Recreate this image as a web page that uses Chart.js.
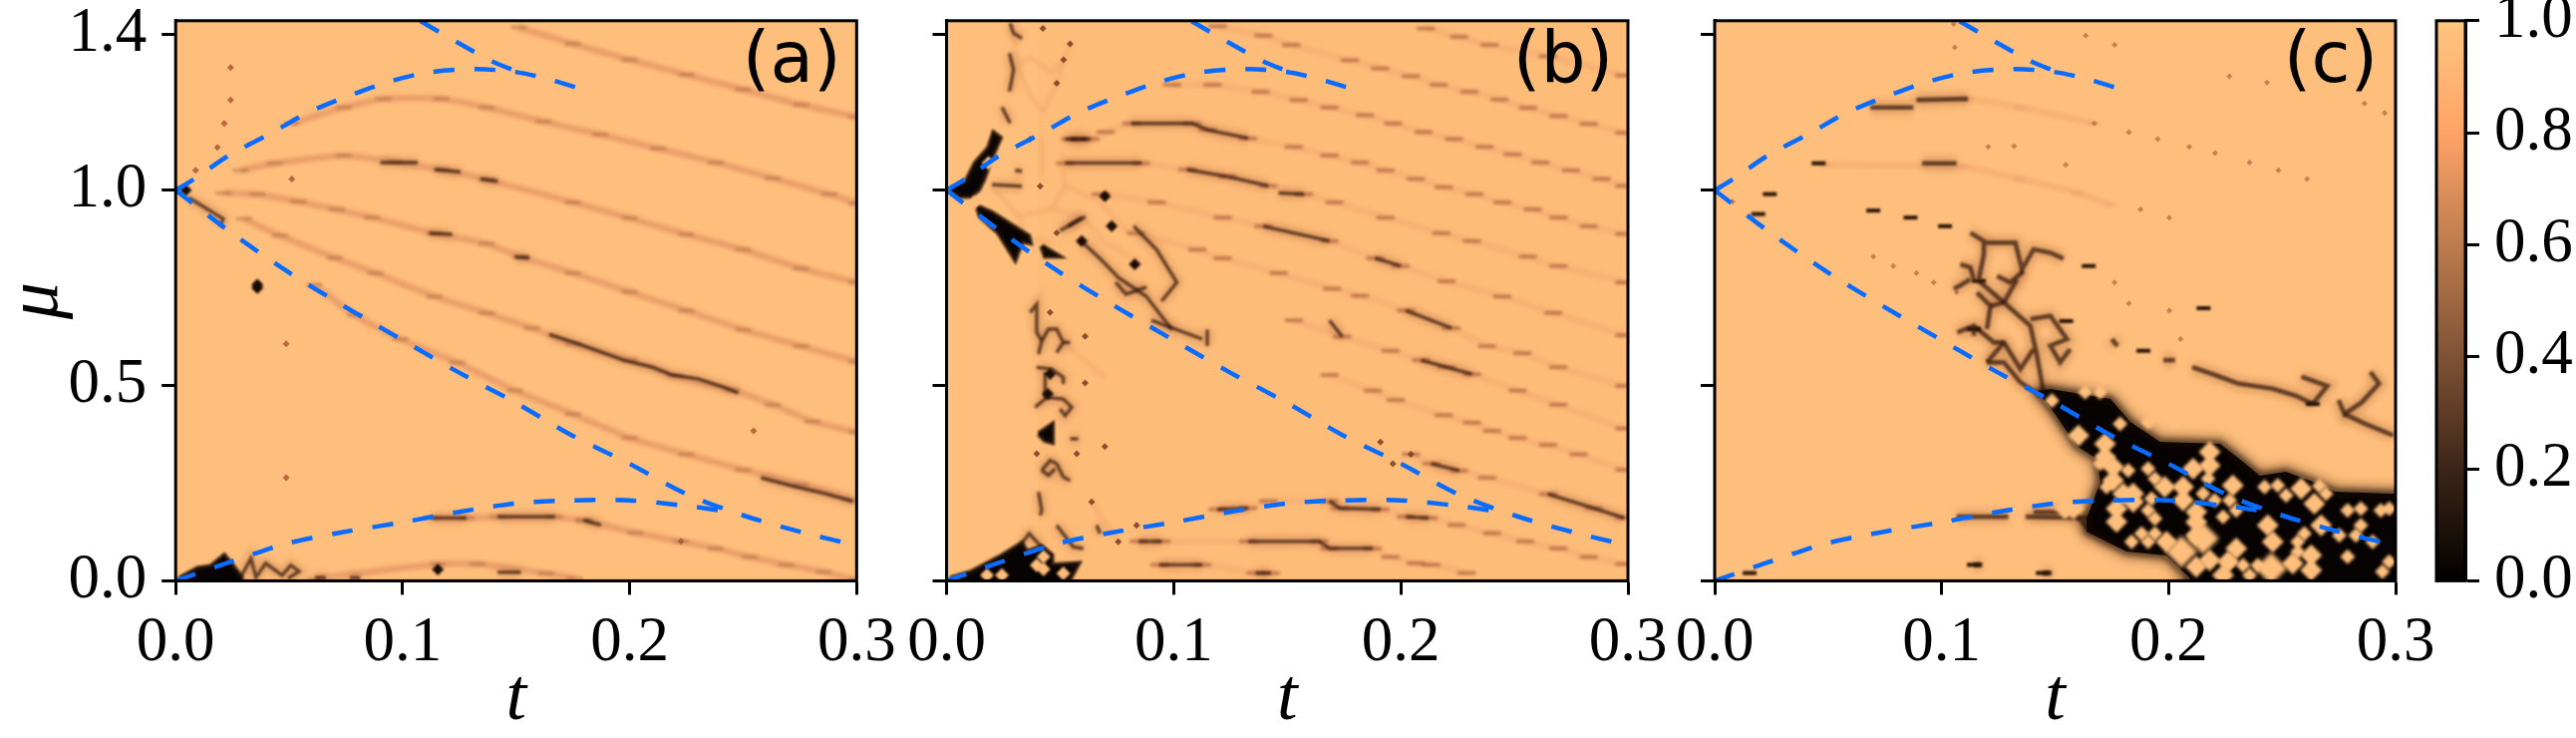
<!DOCTYPE html>
<html>
<head>
<meta charset="utf-8">
<script src="https://cdn.jsdelivr.net/npm/chart.js@4"></script>
<style>
html, body { margin: 0; background: #fff; }
canvas { position: absolute; left: 0; top: 0; }
</style>
</head>
<body>
<canvas id="panelA" width="2584" height="740"></canvas>
<canvas id="panelB" width="2584" height="740"></canvas>
<canvas id="panelC" width="2584" height="740"></canvas>
<canvas id="colorBar" width="2584" height="740"></canvas>
<script>
// axis ticks
var tTicks = [0, 0.1, 0.2, 0.3];
var muTicks = [0, 0.5, 1.0, 1.4];
var barTicks = [0, 0.2, 0.4, 0.6, 0.8, 1.0];
var barColors = ['#000000', '#3d2517', '#7f5236', '#bd7c4e', '#ffa367', '#ffc57f'];

// blue dashed boundaries, same on all panels
var edgeUpper = [[0,1],[.0083,1.029],[.0234,1.089],[.0411,1.143],[.0587,1.2],[.0764,1.242],[.094,1.278],[.1117,1.302],[.1318,1.31],[.1495,1.303],[.1646,1.284],[.1797,1.257]];
var edgeTop = [[.1079,1.433],[.1243,1.378],[.1394,1.33],[.1495,1.306]];
var edgeFall = [[0,1],[.0234,.896],[.0487,.794],[.0739,.704],[.0991,.619],[.1243,.535],[.1495,.457],[.1747,.372],[.1999,.3],[.2251,.222],[.2503,.167],[.2755,.125],[.2982,.093]];
var edgeLower = [[0,0],[.0234,.047],[.0487,.095],[.0739,.125],[.0991,.149],[.1243,.176],[.1495,.198],[.1747,.206],[.1999,.206],[.2251,.192],[.2402,.18]];

// panel (a)
var aRidges = [
  [[.151,1.417],[.175,1.375],[.2,1.334],[.225,1.296],[.25,1.258],[.2755,1.219],[.3,1.188]],
  [[.051,1.171],[.074,1.212],[.0915,1.234],[.117,1.234],[.137,1.212],[.162,1.176],[.187,1.143],[.2125,1.107],[.238,1.071],[.263,1.031],[.288,.99],[.3,.966]],
  [[.0285,1.051],[.0436,1.069],[.074,1.089],[.0965,1.073],[.117,1.053],[.137,1.027],[.175,.969],[.2,.929],[.225,.887],[.25,.848],[.2755,.8],[.3,.764]],
  [[.021,.993],[.036,.99],[.054,.971],[.071,.951],[.0865,.93],[.114,.89],[.137,.863],[.152,.83],[.175,.788],[.2,.74],[.225,.692],[.25,.643],[.2755,.601],[.3,.561]],
  [[.03,.927],[.046,.884],[.07,.827],[.088,.788],[.114,.728],[.137,.686],[.157,.647],[.175,.607],[.2,.565],[.22,.525],[.245,.489],[.263,.451],[.2805,.408],[.3,.381]],
  [[.061,.758],[.079,.68],[.099,.619],[.124,.559],[.1495,.487],[.175,.427],[.2,.366],[.225,.324],[.25,.284],[.2755,.246],[.3,.204]],
  [[.18,.155],[.2025,.123],[.2225,.101],[.238,.083],[.253,.061],[.269,.041],[.2855,.023],[.3,.002]],
  [[.0612,.005],[.1155,.043],[.1331,.043],[.1633,.019],[.1759,.007]],
  [[.1129,.161],[.1281,.161],[.1419,.164],[.1671,.164],[.1797,.155]]
];
var aDark = [
  [[.0902,1.071],[.1066,1.071]], [[.1142,1.053],[.1255,1.047]], [[.1344,1.029],[.1419,1.023]],
  [[.1117,.89],[.1218,.887]], [[.1495,.829],[.1558,.827]],
  [[.1646,.631],[.1772,.607],[.1974,.565],[.21,.547],[.2188,.527],[.2301,.517],[.2428,.493],[.2478,.481]],
  [[.2579,.264],[.2717,.243],[.2856,.224],[.2982,.204]],
  [[.1129,.161],[.1281,.161]], [[.1419,.164],[.1671,.164]], [[.1797,.155],[.1873,.143]],
  [[.1419,.022],[.152,.022]],
  [[.0058,.981],[.0209,.927],[.0197,.908]],
  [[.0289,.012],[.0332,.057],[.0354,.009],[.0397,.045],[.0469,.014],[.0507,.04],[.0544,.024],[.0495,.006]],
  [[.0615,.008],[.0661,.008]], [[.0768,.008],[.0812,.008]]
];
var aBlack = [[.0017,.006],[.0097,.032],[.0156,.037],[.0214,.065],[.025,.039],[.0289,.009],[.0289,-.01],[.0017,-.01]];
var aSpots = [[.0045,1],[.036,.758],[.036,.75],[.1155,.029]];
var aSpecks = [[.0242,1.314],[.0242,1.231],[.0214,1.171],[.0184,1.11],[.0088,1.051],[.0487,.607],[.0487,.264],[.0512,1.029],[.2546,.384],[.2226,.101]];

// panel (b)
var bRidges = [
  [[.2111,1.414],[.2257,1.393],[.2391,1.372],[.2648,1.343],[.2984,1.294]],
  [[.1193,1.42],[.1395,1.396],[.1518,1.372],[.1775,1.333],[.191,1.312],[.2044,1.292],[.2167,1.27],[.2302,1.252],[.2435,1.232],[.256,1.211],[.2694,1.19],[.2828,1.17],[.2984,1.147]],
  [[.0992,1.27],[.1171,1.27],[.1383,1.252],[.1551,1.231],[.1686,1.212],[.1842,1.192],[.1966,1.171],[.21,1.149],[.2234,1.131],[.2369,1.111],[.2492,1.092],[.2615,1.071],[.2749,1.051],[.2883,1.029],[.2984,1.011]],
  [[.0544,1.131],[.0634,1.131],[.0701,1.149],[.0813,1.171],[.1081,1.171],[.1148,1.155],[.1328,1.133],[.1529,1.111],[.1686,1.089],[.182,1.071],[.1932,1.051],[.2066,1.029],[.2189,1.008],[.2324,.99],[.2447,.969],[.2581,.951],[.2694,.93],[.2828,.908],[.2984,.888]],
  [[.0522,1.069],[.0857,1.069],[.1059,1.053],[.1238,1.035],[.1417,1.011],[.1574,.99],[.1708,.969],[.1932,.93],[.2178,.89],[.2313,.87],[.2559,.83],[.2694,.806],[.2984,.764]],
  [[.0678,.99],[.0925,.969],[.1216,.93],[.1395,.908],[.1686,.87],[.1887,.826],[.1999,.806],[.2201,.767],[.2447,.728],[.2671,.686],[.2984,.629]],
  [[.0835,.89],[.1104,.848],[.1216,.826],[.1462,.788],[.1697,.748],[.182,.73],[.2022,.692],[.2223,.647],[.238,.601],[.2536,.583],[.2693,.547],[.2984,.499]],
  [[.1529,.667],[.1742,.625],[.1954,.589],[.2089,.565],[.2201,.547],[.2313,.529],[.2514,.487],[.2693,.451],[.2984,.39]],
  [[.1686,.527],[.1876,.487],[.1977,.463],[.2189,.424],[.2313,.405],[.2402,.384],[.2514,.366],[.2648,.348],[.2783,.324],[.2984,.284]],
  [[.2044,.324],[.2134,.3],[.2257,.282],[.238,.264],[.2648,.222],[.285,.186],[.2984,.161]],
  [[.1193,.183],[.1328,.186],[.1417,.204],[.1686,.204],[.1731,.186],[.191,.183],[.2022,.164],[.2123,.161],[.2245,.143],[.2402,.122],[.2548,.101],[.2693,.083],[.2828,.061],[.2984,.043]],
  [[.0846,.101],[.0947,.101],[.1328,.101],[.1641,.101],[.1686,.083],[.1876,.083],[.1954,.061],[.2066,.045],[.2134,.041],[.229,.02]],
  [[.0936,.041],[.1126,.041],[.1361,.02],[.1428,.02]]
];
var bFaint = [
  [[.02,1.0103],[.0317,.9337],[.0463,.9508],[.0522,1.0103],[.0507,1.0954]],
  [[.0419,1.138],[.0419,1.0358]], [[.0317,.9337],[.0346,.8826],[.0463,.8656]],
  [[.0522,1.0103],[.0661,.9763],[.08,.8912]], [[.0463,.9508],[.0595,.9338],[.0698,.8656],[.086,.8145]],
  [[.0295,1.4018],[.031,1.32],[.036,1.25],[.0424,1.2],[.0485,1.274],[.0544,1.3745],[.0515,1.3337],[.0463,1.3],[.037,1.34],[.031,1.32]],
  [[.0514,.6104],[.0697,.52]], [[.0639,.2019],[.0756,.1]]
];
var bDark = [
  [[.0522,1.0699],[.0859,1.0699]], [[.0544,1.131],[.0634,1.131]], [[.0813,1.171],[.1081,1.171],[.1148,1.155],[.1328,1.133]],
  [[.1059,1.053],[.1238,1.035]], [[.1238,1.035],[.1417,1.011]], [[.1462,.993],[.1574,.99]], [[.1395,.908],[.1686,.87]],
  [[.1686,.667],[.1742,.625]], [[.1887,.826],[.1999,.806]], [[.2089,.565],[.2313,.529]], [[.2134,.3],[.2257,.282]],
  [[.2648,.222],[.285,.186],[.2984,.161]], [[.1193,.183],[.1328,.186]], [[.1686,.204],[.1731,.186],[.191,.183]],
  [[.2022,.164],[.2123,.161]], [[.0846,.101],[.0947,.101]], [[.1328,.101],[.1641,.101],[.1686,.083],[.1876,.083]],
  [[.0936,.041],[.1126,.041]], [[.1361,.02],[.1428,.02]], [[.2022,.692],[.2223,.647]],
  [[.028,1.4273],[.0295,1.4018],[.0332,1.389]], [[.0277,1.3507],[.0295,1.3081],[.0277,1.2528]], [[.0244,1.2128],[.028,1.172]],
  [[.02,1.0145],[.0332,1.0103]], [[.0302,1.051],[.0332,1.0486]], [[.0522,1.131],[.0617,1.131]], [[.0536,.908],[.0595,.9295]],
  [[.0499,.8964],[.0611,.9325]], [[.0589,.872],[.0678,.824],[.0757,.776],[.088,.728],[.0992,.643]], [[.0745,.764],[.079,.734],[.088,.752]],
  [[.0824,.908],[.0925,.848],[.1014,.764],[.0947,.716]], [[.1148,.643],[.1148,.601]], [[.0902,.667],[.1126,.619]],
  [[.0368,.687],[.0397,.7082],[.0397,.636],[.0419,.6146],[.0405,.5806]],
  [[.0419,.6146],[.0449,.6444],[.0485,.6444],[.0514,.6104],[.0485,.5848]], [[.0514,.6104],[.0544,.6104]],
  [[.0397,.5466],[.0463,.5423],[.0514,.521],[.0514,.504]], [[.0434,.5338],[.0434,.4657],[.039,.4444]],
  [[.0434,.47],[.0514,.4657],[.0551,.4444],[.0522,.4231],[.05,.4402]], [[.0544,.3636],[.058,.3636]],
  [[.0419,.2827],[.0456,.3083],[.0485,.2998],[.0514,.2657],[.0544,.2572]], [[.0419,.2827],[.0449,.27],[.0478,.287]],
  [[.0405,.2274],[.0419,.1806],[.0412,.1678]], [[.0485,.1423],[.0558,.087],[.0602,.0828]], [[.0661,.1423],[.0676,.121]],
  [[.0331,.0955],[.0364,.121],[.0397,.1],[.0419,.087]]
];
var bBlack = [
  [[.0017,1.0018],[.0083,1.0188],[.0127,1.0699],[.0185,1.108],[.0207,1.1465],[.0236,1.1337],[.02,1.0869],[.0163,1.0273],[.0141,1.0018],[.0105,.9848],[.0061,.9848]],
  [[.0134,.9592],[.02,.9422],[.0361,.8826],[.0368,.8656],[.0332,.8699],[.0302,.823],[.0229,.8912],[.0149,.9337]],
  [[.0419,.8571],[.0492,.8316],[.0434,.8316]],
  [[.0017,.0062],[.0112,.0232],[.0236,.0615],[.0331,.0955],[.0353,.0742],[.0419,.087],[.0463,.0657],[.0463,.0402],[.058,.0445],[.0544,.0062],[.0485,-.01],[.0017,-.01]],
  [[.0405,.3763],[.0465,.4],[.0465,.355],[.0434,.36]]
];
var bHoles = [[.0185,1.0699],[.0123,.9685],[.0397,.0402],[.0427,.0615],[.0514,.0189],[.0178,.0147],[.0244,.0147],[.0427,.03]];
var bSpots = [[.0456,.5295],[.0446,.4785],[.0697,.9848],[.0595,.8699],[.0829,.8103],[.0727,.908]];
var bSpecks = [[.0368,1.131],[.0485,1.274],[.0544,1.3745],[.0515,1.3337],[.0424,1.4145],[.0412,1.0103],[.0485,.8912],[.0397,.3253],[.0573,.3253],[.0697,.344],[.061,.6257],[.061,.5066],[.0456,.687],[.0639,.2019],[.0837,.1423],[.0756,.1],[.2044,.324],[.191,.355],[.1965,.3]];

// panel (c)
var cRidges = [
  [[.0889,1.231],[.1116,1.234],[.1344,1.212],[.1673,1.171]],
  [[.0484,1.065],[.1091,1.061],[.1344,1.029],[.1597,.993],[.1749,.963]]
];
var cDark = [
  [[.0686,1.212],[.0876,1.212]], [[.0889,1.231],[.1116,1.234]], [[.0914,1.069],[.1066,1.069]],
  [[.1066,.164],[.1294,.164]], [[.137,.164],[.1648,.161],[.1687,.13]], [[.1142,.041],[.118,.041]], [[.1446,.02],[.1486,.02]],
  [[.1977,.565],[.2028,.565]], [[.2104,.547],[.2205,.527],[.2306,.505],[.2458,.492],[.2559,.474],[.2635,.453]],
  [[.2585,.523],[.2699,.499],[.2635,.453]], [[.2749,.463],[.2775,.427],[.2851,.457],[.2927,.505],[.2889,.535]], [[.2775,.427],[.2863,.403],[.299,.372]],
  [[.175,.619],[.1775,.601]], [[.1405,.176],[.1581,.176],[.1635,.14],[.1755,.1]],
  [[.1127,.8912],[.1186,.87],[.1186,.8359],[.1164,.7721]],
  [[.1193,.8657],[.1325,.8657],[.1354,.7976],[.1405,.8487],[.1479,.8401],[.1537,.8248]],
  [[.1164,.7678],[.1274,.7125],[.1391,.6529],[.142,.5763],[.1449,.4827]],
  [[.1244,.7806],[.1303,.7636],[.1361,.7933]], [[.1083,.8104],[.1127,.8019],[.1142,.7721]], [[.1054,.7465],[.1127,.7721]],
  [[.1069,.6359],[.1142,.6529],[.123,.6104],[.1274,.6104],[.1347,.5423],[.1405,.5933]],
  [[.1142,.6444],[.1142,.6274]], [[.12,.5593],[.1274,.5593],[.1347,.5082],[.1435,.4742]], [[.1274,.6104],[.12,.5593]],
  [[.1391,.6699],[.1479,.6784],[.1552,.6189],[.1479,.6019],[.1522,.5593],[.1566,.5933]],
  [[.1156,.738],[.1215,.704],[.12,.6444]], [[.1215,.704],[.1274,.7125]], [[.1274,.7125],[.1332,.7721]]
];
var cBlack = [[.1419,.4861],[.148,.4912],[.1744,.4657],[.1831,.4069],[.1963,.3559],[.2227,.3508],[.2328,.3048],[.2402,.2691],[.2516,.2793],[.2635,.2538],[.2736,.2282],[.2986,.2231],[.3032,.2231],[.3032,-.02],[.2051,-.02],[.2095,.006],[.1989,.0648],[.1814,.075],[.1638,.1261],[.1638,.1593],[.17,.2538],[.1682,.3125],[.1594,.3457],[.1493,.4325]];
var cCellsSmall = [[.1486,.4614],[.1632,.4827],[.1698,.4827],[.191,.4061],[.2027,.4061],[.1698,.3],[.1822,.2827],[.191,.2869],[.194,.2614],[.1727,.2401],[.2174,.2614],[.2152,.2231],[.191,.1806],[.194,.1593],[.1925,.2103],[.224,.1635],[.2269,.206],[.2203,.206],[.1881,.121],[.194,.121],[.191,.0997],[.1837,.0997],[.1786,.4018],[.2269,.0487],[.2423,.2401],[.2481,.2444],[.2518,.2188],[.2664,.2427],[.2694,.2231],[.2789,.1806],[.2847,.1848],[.2935,.1806],[.2972,.1848],[.2298,.1806],[.2598,.121],[.2569,.1],[.2569,.0742],[.2328,.0401],[.2393,.0401],[.2789,.0614],[.2847,.1423],[.2752,.1167],[.2942,.0231],[.2972,.0487],[.2825,.1167],[.2899,.0997],[.2357,.0146]];
var cCellsMid = [[.1603,.372],[.172,.3507],[.172,.3167],[.1756,.2912],[.1756,.2571],[.1983,.2401],[.2064,.2401],[.2064,.206],[.2108,.2869],[.2181,.3295],[.2181,.2954],[.2283,.2444],[.1844,.2018],[.1771,.1848],[.1771,.1508],[.18,.2231],[.1844,.2231],[.1991,.0997],[.2122,.1507],[.2122,.1763],[.2122,.1167],[.2181,.0529],[.2298,.0827],[.1581,.1848],[.1544,.1848],[.2122,.0359],[.224,.0146],[.2584,.2359],[.2642,.1976],[.2437,.1423],[.2459,.1],[.2262,.0487],[.2547,.0444],[.2628,.0657],[.2628,.0274],[.2672,.1423]];
var cCellsLarge = [[.2057,.0742],[.2152,.1082],[.2452,.0316]];
var cSpots = [[.1164,.7678],[.1142,.6444],[.0243,.99],[.0192,.939],[.0699,.948],[.0863,.93],[.1015,.908],[.0458,1.069],[.2154,.698],[.1648,.806],[.1889,.589],[.0154,.02],[.1142,.041],[.1446,.02],[.2635,.453],[.1549,.665]];
var cSpecks = [[.1205,1.111],[.1319,1.113],[.1547,1.065],[.1673,1.171],[.1825,1.149],[.1952,1.131],[.2091,1.111],[.2205,1.095],[.2357,1.071],[.2484,1.051],[.261,1.029],[.1876,.951],[.2003,.93],[.2268,1.292],[.2433,1.276],[.1762,1.372],[.1635,1.396],[.2863,1.222],[.2952,1.198],[.1762,.764],[.1825,.71],[.2003,.692],[.0699,.83],[.0787,.806],[.0889,.788],[.0965,.764],[.1066,.739],[.0078,.971],[.1053,1.426],[.1058,1.366],[.2053,.619]];

var toXY = function (pts) {
  return pts.map(function (p) { return { x: p[0], y: p[1] }; });
};
var curve = function (pts, width, color, blur, extra) {
  return Object.assign({ data: toXY(pts), showLine: true, borderColor: color, borderWidth: width, pointRadius: 0, tension: 0.15, blur: blur }, extra || {});
};
var dots = function (pts, r, color, blur) {
  return { data: toXY(pts), showLine: false, pointRadius: r, pointStyle: 'rectRot', backgroundColor: color, borderWidth: 0, blur: blur };
};
// short horizontal streaks, the nodes on the ridges
var streaks = function (pts, r, w, color, blur) {
  return { data: toXY(pts), showLine: false, pointRadius: r, pointStyle: 'line', pointBorderColor: color, pointBorderWidth: w, blur: blur };
};
var blob = function (pts, color, blur) {
  return curve(pts.concat([pts[0]]), 5, 'rgba(25,12,5,.9)', blur, { backgroundColor: color, fill: 'shape', tension: 0 });
};
var blues = function () {
  return [edgeTop, edgeUpper, edgeFall, edgeLower].map(function (pts) {
    return curve(pts, 4.5, '#0a6cff', 0, { tension: 0.3, borderDash: [21, 20] });
  });
};

var ridgeSets = function (ridges, halo, node, r) {
  var out = [];
  ridges.forEach(function (l) {
    out.push(curve(l, 6, halo, 2));
    out.push(streaks(l, r, 3.5, node, 1.4));
  });
  return out;
};
var darkSets = function (lines, w) {
  var out = [];
  lines.forEach(function (l) {
    out.push(curve(l, 3 * w, 'rgba(165,95,55,.3)', 3.5, { tension: 0 }));
  });
  lines.forEach(function (l) {
    out.push(curve(l, w, 'rgba(50,25,12,.72)', 1.3, { tension: 0 }));
  });
  return out;
};
var faintSets = function (lines) {
  return lines.map(function (l) { return curve(l, 4, 'rgba(225,135,85,.28)', 2, { tension: 0 }); });
};

var panelA = [].concat(
  ridgeSets(aRidges, 'rgba(215,125,85,.55)', 'rgba(150,85,50,.4)', 8),
  darkSets(aDark, 3.4),
  [blob(aBlack, '#060302', 0.8), dots(aSpots, 6, '#1a0c05', 1), dots(aSpecks, 3.5, 'rgba(170,80,50,.8)', 0.5)],
  blues()
);
var panelB = [].concat(
  [curve([[.04, -.05], [.04, 1.5], [.31, 1.5], [.31, -.05], [.04, -.05]], 0, 'rgba(0,0,0,0)', 3, { backgroundColor: 'rgba(240,150,90,.07)', fill: 'shape', tension: 0 })],
  faintSets(bFaint),
  ridgeSets(bRidges, 'rgba(226,140,95,.25)', 'rgba(170,90,55,.7)', 9),
  darkSets(bDark, 3.4),
  bBlack.map(function (p) { return blob(p, '#060302', 1); }),
  [dots(bHoles, 7, '#ffbd7a', 1), dots(bSpots, 6, '#1a0c05', 1), dots(bSpecks, 3.5, 'rgba(120,60,35,.85)', 0.5)],
  blues()
);
var panelC = [].concat(
  ridgeSets(cRidges, 'rgba(226,140,95,.3)', 'rgba(226,140,95,.3)', 6),
  darkSets(cDark, 4.6),
  [curve(cBlack.concat([cBlack[0]]), 14, 'rgba(70,40,20,.4)', 6, { tension: 0 }), blob(cBlack, '#070302', 3)],
  [dots(cCellsSmall, 7.5, '#ffbf7c', 1.4), dots(cCellsMid, 11, '#ffbf7c', 1.6), dots(cCellsLarge, 16, '#ffbf7c', 2)],
  [streaks(cSpots, 7, 4, '#2a1508', 1), dots(cSpecks, 3, 'rgba(180,100,60,.7)', 0.5)],
  blues()
);

var softDraw = {
  id: 'softDraw',
  beforeDatasetDraw: function (chart, args) {
    var b = chart.data.datasets[args.index].blur;
    if (b) chart.ctx.filter = 'blur(' + b + 'px)';
  },
  afterDatasetDraw: function (chart) { chart.ctx.filter = 'none'; }
};
var frame = {
  id: 'frame',
  beforeDatasetsDraw: function (chart) {
    var a = chart.chartArea;
    chart.ctx.fillStyle = chart.options.plugins.frame.fill;
    if (chart.options.plugins.frame.fill) chart.ctx.fillRect(a.left, a.top, a.width, a.height);
  },
  afterDraw: function (chart) {
    var a = chart.chartArea, c = chart.ctx, o = chart.options.plugins.frame;
    c.save();
    c.strokeStyle = '#000';
    c.lineWidth = 3;
    c.strokeRect(a.left, a.top, a.width, a.height);
    if (o.label) {
      c.fillStyle = '#000';
      c.font = '71px "DejaVu Sans"';
      c.textAlign = 'center';
      c.textBaseline = 'middle';
      c.fillText(o.label, a.right - 65, a.top + 43);
    }
    c.restore();
  }
};

var serif = '"Liberation Serif"';
var TOP = 20.8, BOTTOM = 582.4, XH = 156;

function noMargins(s) {
  s.paddingTop = 0; s.paddingBottom = 0; s.paddingLeft = 0; s.paddingRight = 0;
}

function makePanel(id, sets, left, right, label, withMu) {
  var yw = withMu ? 176 : 20;
  return new Chart(document.getElementById(id), {
    type: 'scatter',
    data: { datasets: sets.slice().reverse() },
    plugins: [softDraw, frame],
    options: {
      responsive: false,
      animation: false,
      events: [],
      layout: { padding: { left: left - yw, right: 2584 - right, top: TOP, bottom: 740 - BOTTOM - XH } },
      plugins: { legend: { display: false }, tooltip: { enabled: false }, frame: { label: label, fill: '#ffbf7c' } },
      scales: {
        x: {
          type: 'linear', min: 0, max: 0.3,
          afterBuildTicks: function (s) { s.ticks = tTicks.map(function (v) { return { value: v }; }); },
          afterFit: function (s) { s.height = XH; noMargins(s); },
          grid: { drawOnChartArea: false, color: '#000', tickLength: 14, tickWidth: 3 },
          border: { color: '#000', width: 3 },
          ticks: { color: '#000', font: { family: serif, size: 63, lineHeight: 1 }, padding: 18, maxRotation: 0, autoSkip: false,
            callback: function (v) { return v.toFixed(1); } },
          title: { display: true, text: 't', color: '#000', font: { family: serif, size: 74, style: 'italic', lineHeight: 1 }, padding: { top: 12, bottom: 0 } }
        },
        y: {
          type: 'linear', min: 0, max: 1.434,
          afterBuildTicks: function (s) { s.ticks = muTicks.map(function (v) { return { value: v }; }); },
          afterFit: function (s) { s.width = yw; noMargins(s); },
          grid: { drawOnChartArea: false, color: '#000', tickLength: 14, tickWidth: 3 },
          border: { color: '#000', width: 3 },
          ticks: { color: '#000', font: { family: serif, size: 63, lineHeight: 1 }, padding: 15, autoSkip: false,
            callback: function (v) { return withMu ? v.toFixed(1) : ''; } },
          title: { display: withMu, text: 'μ', color: '#000', font: { family: serif, size: 74, style: 'italic', lineHeight: 1 }, padding: { top: 0, bottom: 0 } }
        }
      }
    }
  });
}

makePanel('panelA', panelA, 176.2, 859.3, '(a)', true);
makePanel('panelB', panelB, 949.5, 1633, '(b)', false);
makePanel('panelC', panelC, 1720, 2403, '(c)', false);

// colour bar: one floating bar filled with the colormap
new Chart(document.getElementById('colorBar'), {
  type: 'bar',
  data: {
    labels: [''],
    datasets: [{
      data: [[0, 1]],
      barPercentage: 1,
      categoryPercentage: 1,
      backgroundColor: function (ctx) {
        var a = ctx.chart.chartArea;
        if (!a) return '#000';
        var g = ctx.chart.ctx.createLinearGradient(0, a.bottom, 0, a.top);
        barTicks.forEach(function (v, i) { g.addColorStop(v, barColors[i]); });
        return g;
      }
    }]
  },
  plugins: [frame],
  options: {
    responsive: false,
    animation: false,
    events: [],
    layout: { padding: { left: 2444, right: 0, top: TOP, bottom: 740 - BOTTOM } },
    plugins: { legend: { display: false }, tooltip: { enabled: false }, frame: { label: '', fill: '' } },
    scales: {
      x: { display: false },
      y: {
        position: 'right', min: 0, max: 1,
        afterBuildTicks: function (s) { s.ticks = barTicks.map(function (v) { return { value: v }; }); },
        afterFit: function (s) { s.width = 111; noMargins(s); },
        grid: { drawOnChartArea: false, color: '#000', tickLength: 14, tickWidth: 3 },
        border: { color: '#000', width: 3 },
        ticks: { color: '#000', font: { family: serif, size: 63, lineHeight: 1 }, padding: 15, autoSkip: false,
          callback: function (v) { return v.toFixed(1); } }
      }
    }
  }
});
</script>
</body>
</html>
